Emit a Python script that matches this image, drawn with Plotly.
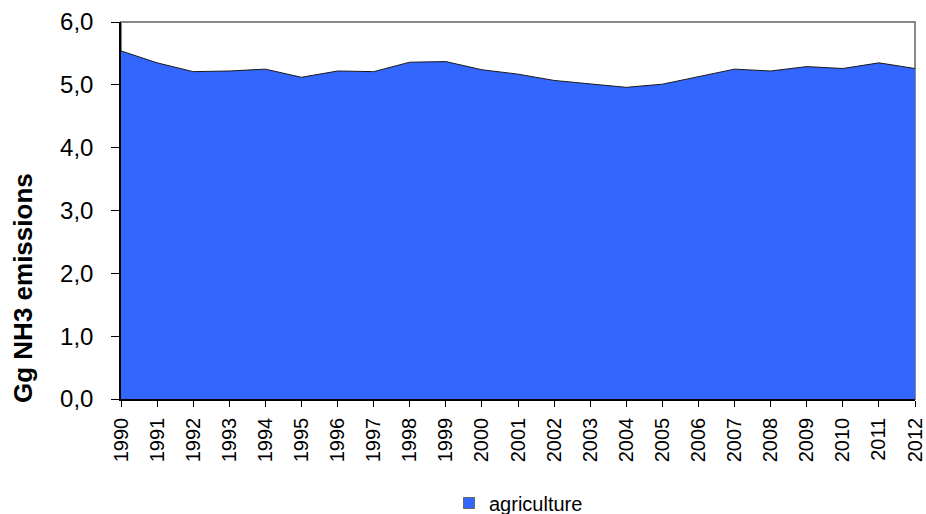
import plotly.graph_objects as go

years = list(range(1990, 2013))
agriculture = [5.54, 5.35, 5.21, 5.22, 5.25, 5.12, 5.22, 5.21, 5.36, 5.37, 5.24,
               5.17, 5.07, 5.02, 4.96, 5.01, 5.13, 5.25, 5.22, 5.29, 5.26, 5.35, 5.26]
y_ticks = [0, 1, 2, 3, 4, 5, 6]
series_name = "agriculture"
y_title = "Gg NH3 emissions"

fill_color = "#3366FF"

fig = go.Figure()
fig.add_trace(go.Scatter(
    x=years, y=agriculture, mode="lines", fill="tozeroy",
    fillcolor=fill_color, line=dict(color="#1a1a1a", width=1),
    name=series_name, showlegend=False,
))
# legend entry drawn as small square, like the reference
fig.add_trace(go.Scatter(
    x=[None], y=[None], mode="markers", name=series_name,
    marker=dict(symbol="square", size=11, color=fill_color,
                line=dict(color="#666666", width=1)),
    showlegend=True,
))

font_family = "Liberation Sans, Arial, sans-serif"
L, R, T, B = 121, 11, 22, 115
plot_w = 926 - L - R
plot_h = 514 - T - B

fig.update_layout(
    width=926, height=514,
    margin=dict(l=L, r=R, t=T, b=B, autoexpand=False),
    paper_bgcolor="white", plot_bgcolor="white",
    separators=",.",
    font=dict(family=font_family, size=18, color="black"),
    showlegend=True,
    legend=dict(orientation="h", x=(449 - L) / plot_w, xanchor="left",
                yref="container", y=(514 - 503) / 514, yanchor="middle",
                font=dict(size=20), itemwidth=30, bgcolor="rgba(0,0,0,0)"),
    xaxis=dict(
        range=[1990, 2012], tickmode="array", tickvals=years,
        ticktext=[str(y) for y in years], tickangle=-90,
        ticks="outside", ticklen=6, tickcolor="black",
        showline=True, linecolor="black", linewidth=1.5,
        showgrid=False, zeroline=False, tickfont=dict(size=20),
        ticklabelstandoff=3, automargin=False,
    ),
    yaxis=dict(
        range=[0, 6], tickmode="array", tickvals=y_ticks, tickformat=".1f",
        ticks="outside", ticklen=8, tickcolor="black",
        showline=True, linecolor="black", linewidth=1.5,
        showgrid=False, zeroline=False, tickfont=dict(size=24),
        ticklabelstandoff=13, automargin=False,
    ),
    shapes=[dict(type="rect", xref="paper", yref="paper", x0=0, x1=1, y0=0, y1=1,
                 line=dict(color="#888888", width=2), layer="below")],
    annotations=[dict(
        text="<b>" + y_title + "</b>", xref="paper", yref="paper",
        x=(23 - L) / plot_w, y=(399 - 288) / plot_h, xanchor="center", yanchor="middle",
        textangle=-90, showarrow=False, font=dict(size=26, family=font_family),
    )],
)

fig.write_html("out.html")
